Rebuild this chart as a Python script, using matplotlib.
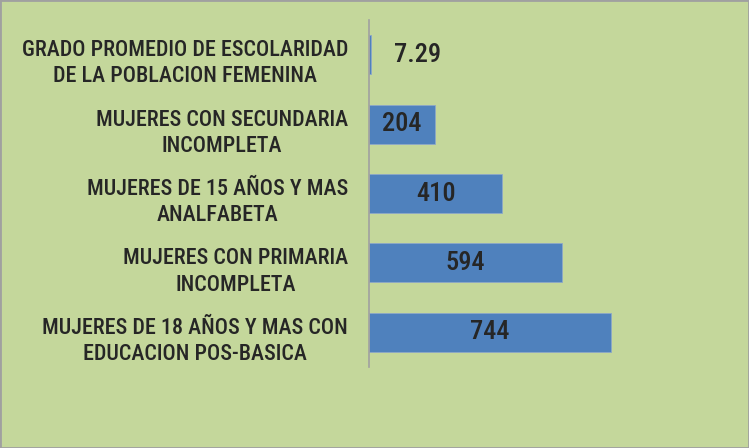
import matplotlib.pyplot as plt
from matplotlib.transforms import ScaledTranslation

# data
categorias = ['GRADO PROMEDIO DE ESCOLARIDAD\nDE LA POBLACION FEMENINA',
              'MUJERES CON SECUNDARIA\nINCOMPLETA',
              'MUJERES DE 15 AÑOS Y MAS\nANALFABETA',
              'MUJERES CON PRIMARIA\nINCOMPLETA',
              'MUJERES DE 18 AÑOS Y MAS CON\nEDUCACION POS-BASICA']
valores = [7.29, 204, 410, 594, 744]
etiquetas = ['7.29', '204', '410', '594', '744']

fondo = '#C4D79B'
azul = '#4F81BD'
texto = '#262626'
fuente = ['Roboto Condensed', 'DejaVu Sans']

fig = plt.figure(figsize=(7.49, 4.48), dpi=100, facecolor=fondo)
ax = fig.add_axes([369 / 749, 81 / 448, 361 / 749, 347 / 448])
ax.set_facecolor(fondo)

pos = list(range(len(valores)))
ax.barh(pos, valores, height=0.56, color=azul, edgecolor='#8DA8C8', linewidth=0.6)
ax.set_ylim(len(valores) - 0.5, -0.5)
ax.set_xlim(0, 1110)

for y, v, t in zip(pos, valores, etiquetas):
    x = 150 if v < 50 else v / 2
    ax.text(x, y, t, ha='center', va='center', fontsize=19,
            color=texto, family=fuente, fontweight='medium')

ax.set_yticks(pos)
ax.set_yticklabels(categorias, family=fuente, fontsize=15.8, color=texto,
                   fontweight='medium', multialignment='center',
                   linespacing=1.25)
ax.tick_params(axis='y', length=0, pad=15)
desplazar = ScaledTranslation(0, -4 / 100, fig.dpi_scale_trans)
for lbl in ax.get_yticklabels():
    lbl.set_transform(lbl.get_transform() + desplazar)
ax.set_xticks([])
for s in ['top', 'right', 'bottom']:
    ax.spines[s].set_visible(False)
ax.spines['left'].set_color('#A0A0A0')
ax.spines['left'].set_linewidth(1.2)

# marco exterior
fig.patches.append(plt.Rectangle((0, 0), 1, 1, transform=fig.transFigure,
                                 fill=False, edgecolor='#A0A0A0', linewidth=2))

plt.savefig('out.png', dpi=100, facecolor=fondo)
